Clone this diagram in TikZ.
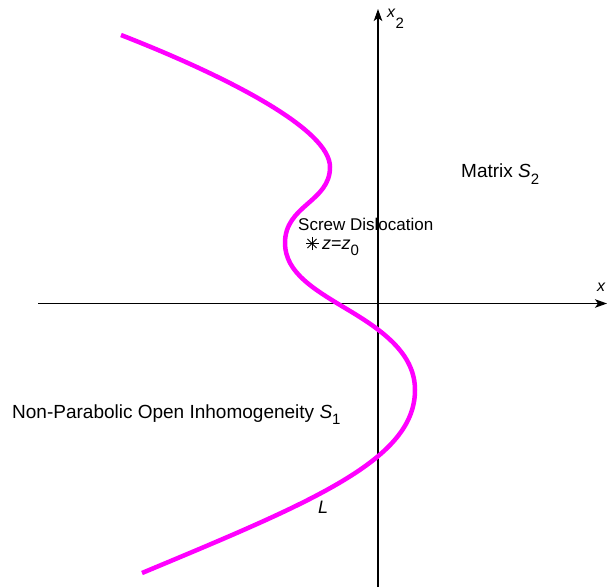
\documentclass[tikz,border=0pt]{standalone}
\usepackage{fontspec}
\setmainfont{Liberation Sans}
\usetikzlibrary{arrows.meta,calc}
\definecolor{curvemag}{RGB}{255,0,255}
\newcommand{\mysub}[2][0.32em]{\raisebox{-#1}{\fontsize{15}{17}\selectfont #2}}
\begin{document}
\begin{tikzpicture}[x=1pt,y=-1pt,
  axis/.style={line width=1.2pt,-{Stealth[length=12pt,width=8.5pt,inset=3pt]}},
  lbl/.style={inner sep=0pt,anchor=base west,font=\fontsize{19}{22}\selectfont},
  small/.style={inner sep=0pt,anchor=base west,font=\fontsize{17}{20}\selectfont},
  interface/.style={line width=4.5pt,curvemag}]
\useasboundingbox (0,0) rectangle (608,587);
% axes
\coordinate (xs) at (38,303.5);
\coordinate (xe) at (607,303.5);
\coordinate (ys) at (378,587);
\coordinate (ye) at (378,9);
\draw[axis] (xs) -- (xe);
\draw[axis] (ys) -- (ye);
% curve L
\coordinate (A) at (121,35);
\coordinate (B) at (330,167);
\coordinate (C) at (285,243);
\coordinate (P) at (350,311);
\coordinate (D) at (415,390);
\coordinate (E) at (142,573);
\draw[interface]
  (A) .. controls (231,78) and (330,130) .. (B)
      .. controls (330,202) and (285,205) .. (C)
      .. controls (285,273) and (315,290) .. (P)
      .. controls (385,332) and (415,355) .. (D)
      .. controls (415,460) and (312,502) .. (E);
% screw dislocation marker
\coordinate (zz) at (312,243.5);
\foreach \a in {0,45,90,135}
  \draw[line width=0.8pt] ($(zz)+(\a:6.5)$) -- ($(zz)+(\a+180:6.5)$);
% labels
\node[small] (sd) at (298,230) {Screw Dislocation};
\node[lbl,font=\fontsize{18}{21}\selectfont] (zlab) at (322,249.5) {\textit{z}=\textit{z}\mysub{0}};
\node[lbl] (mat) at (461,177) {Matrix \textit{S}\mysub[0.4em]{2}};
\node[lbl] (inh) at (12,418) {Non-Parabolic Open Inhomogeneity \textit{S}\mysub{1}};
\node[lbl,font=\fontsize{18}{21}\selectfont] (Llab) at (318,513) {\textit{L}};
\node[lbl,font=\fontsize{16}{20}\selectfont] (xlab) at (597,291) {\textit{x}};
\node[lbl,font=\fontsize{16}{20}\selectfont] (x2lab) at (387,17) {\textit{x}\mysub[0.7em]{2}};
\end{tikzpicture}
\end{document}
